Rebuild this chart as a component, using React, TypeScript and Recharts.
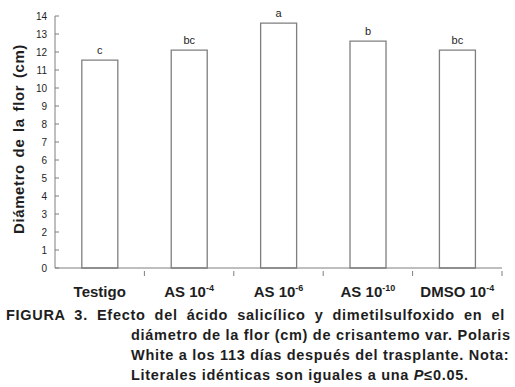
import { BarChart, Bar, XAxis, YAxis, LabelList } from 'recharts';

const tratamientos = ['Testigo', 'AS 10-4', 'AS 10-6', 'AS 10-10', 'DMSO 10-4'];
const diametro = [11.55, 12.1, 13.6, 12.6, 12.1];
const literales = ['c', 'bc', 'a', 'b', 'bc'];
const yTicks = [0, 1, 2, 3, 4, 5, 6, 7, 8, 9, 10, 11, 12, 13, 14];

const data = tratamientos.map((name, i) => ({
    name,
    value: diametro[i],
    letra: literales[i],
}));

const W = 515;
const LEFT = 55;
const RIGHT = 13;
const BAND = (W - LEFT - RIGHT) / tratamientos.length;
const GRIS = '#7f7f7f';
const TEXTO = '#1e1e1e';
const FUENTE = 'Liberation Sans, Arial, sans-serif';

const XTick = (props: any) => {
    const { x, y, payload } = props;
    const [base, exp] = String(payload.value).split(' 10');
    return (
        <g>
            <line x1={x + BAND / 2} x2={x + BAND / 2} y1={y - 5} y2={y} stroke={GRIS} />
            <text x={x} y={y + 21} textAnchor="middle" fill={TEXTO} fontSize={15} fontWeight="bold"
                fontFamily={FUENTE}>
                {exp ? (
                    <>
                        {base} 10
                        <tspan fontSize={9} dy={-6}>{exp}</tspan>
                    </>
                ) : base}
            </text>
        </g>
    );
};

const YLabel = () => (
    <text x={24} y={139} transform="rotate(-90, 24, 139)" textAnchor="middle" fill={TEXTO}
        fontSize={15} fontWeight="bold" letterSpacing={0.6} wordSpacing={2}
        fontFamily={FUENTE}>
        Diámetro de la flor (cm)
    </text>
);

const lineaStyle = (left: number, justify: boolean): React.CSSProperties => ({
    position: 'absolute', left, width: 505 - left, whiteSpace: 'nowrap', letterSpacing: 0.7,
    textAlign: justify ? 'justify' : 'left', textAlignLast: justify ? 'justify' : 'left',
});

export default function App() {
    return (
        <div style={{ position: 'absolute', left: 0, top: 0, width: W, height: 387, background: '#fff' }}>
            <BarChart width={W} height={300} data={data} barCategoryGap="30%"
                margin={{ top: 16, right: RIGHT, left: 0, bottom: 0 }}>
                <XAxis dataKey="name" stroke={GRIS} tickLine={false} height={32} interval={0} tick={<XTick />} />
                <YAxis width={LEFT} domain={[0, 14]} ticks={yTicks} interval={0} stroke={GRIS}
                    tickSize={-4} tickMargin={12}
                    tick={{ fill: TEXTO, fontSize: 10, fontFamily: FUENTE }}
                    label={<YLabel />} />
                <Bar dataKey="value" fill="#fff" stroke={GRIS} strokeWidth={1.3} isAnimationActive={false}>
                    <LabelList dataKey="letra" position="top" offset={6} fill={TEXTO} fontSize={11}
                        fontFamily={FUENTE} />
                </Bar>
            </BarChart>
            <div style={{
                position: 'absolute', left: 0, top: 305, width: W, height: 82,
                fontFamily: FUENTE, fontWeight: 'bold', fontSize: 14.5, lineHeight: '20px', color: TEXTO,
            }}>
                <div style={{ ...lineaStyle(6, true), top: 0 }}>
                    FIGURA 3. Efecto del ácido salicílico y dimetilsulfoxido en el
                </div>
                <div style={{ ...lineaStyle(131, true), top: 20 }}>
                    diámetro de la flor (cm) de crisantemo var. Polaris
                </div>
                <div style={{ ...lineaStyle(131, true), top: 40 }}>
                    White a los 113 días después del trasplante. Nota:
                </div>
                <div style={{ ...lineaStyle(131, false), top: 60 }}>
                    Literales idénticas son iguales a una <i>P</i>≤0.05.
                </div>
            </div>
        </div>
    );
}
